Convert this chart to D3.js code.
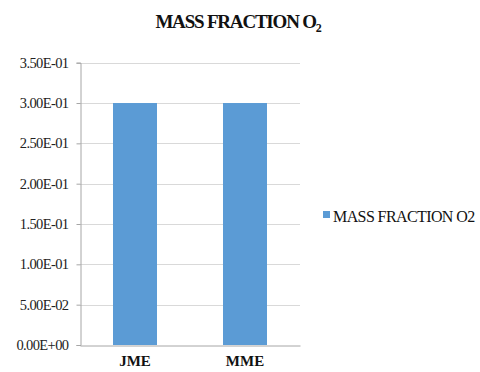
<!DOCTYPE html>
<html>
<head>
<meta charset="utf-8">
<script src="https://cdn.jsdelivr.net/npm/d3@7"></script>
<style>
  body { margin: 0; background: #fff; }
</style>
</head>
<body>
<div id="chart"></div>
<script>
// données
const categories = ["JME", "MME"];
const massFraction = [0.30, 0.30];
const yTicks = [0, 0.05, 0.10, 0.15, 0.20, 0.25, 0.30, 0.35];
const seriesName = "MASS FRACTION O2";

const width = 480, height = 372;
const plot = {left: 80, right: 300, top: 62.7, bottom: 345};
const serif = "'Liberation Serif', 'Times New Roman', serif";

const svg = d3.select("#chart").append("svg")
    .attr("width", width)
    .attr("height", height)
    .style("font-family", serif);

const x = d3.scaleBand().domain(categories).range([plot.left, plot.right]);
const y = d3.scaleLinear().domain([0, 0.35]).range([plot.bottom, plot.top]);

// format 3.50E-01
function sci(v) {
    let s = d3.format(".2e")(v).toUpperCase();
    return s.replace(/E([+-])(\d)$/, "E$10$2");
}

// grille
svg.append("g").selectAll("line").data(yTicks.slice(1)).enter()
    .append("line")
    .attr("x1", plot.left).attr("x2", plot.right)
    .attr("y1", d => Math.round(y(d)) + 0.5).attr("y2", d => Math.round(y(d)) + 0.5)
    .attr("stroke", "#d9d9d9").attr("stroke-width", 1);

// barres
const barW = x.bandwidth() * 0.4;
svg.append("g").selectAll("rect").data(massFraction).enter()
    .append("rect")
    .attr("x", (d, i) => x(categories[i]) + (x.bandwidth() - barW) / 2)
    .attr("y", d => y(d))
    .attr("width", barW)
    .attr("height", d => y(0) - y(d))
    .attr("fill", "#5b9bd5");

// axe y
const yAxis = svg.append("g")
    .attr("transform", "translate(" + (plot.left + 0.5) + ",0)")
    .call(d3.axisLeft(y).tickValues(yTicks).tickFormat(sci).tickSize(4).tickPadding(8));
yAxis.attr("font-family", null);
yAxis.select(".domain").attr("stroke", "#a6a6a6");
yAxis.selectAll(".tick line").attr("stroke", "#a6a6a6");
yAxis.selectAll("text")
    .style("font-family", serif)
    .attr("font-size", 14.5)
    .attr("letter-spacing", -0.6)
    .attr("fill", "#222");

// axe x
const xAxis = svg.append("g")
    .attr("transform", "translate(0," + (Math.round(plot.bottom) + 0.5) + ")")
    .call(d3.axisBottom(x).tickSize(0).tickPadding(10));
xAxis.attr("font-family", null);
xAxis.select(".domain").attr("stroke", "#a6a6a6");
xAxis.selectAll("text")
    .style("font-family", serif)
    .attr("font-size", 15)
    .attr("font-weight", "bold")
    .attr("fill", "#111");

// titre
const title = svg.append("text")
    .attr("x", 238).attr("y", 28)
    .attr("text-anchor", "middle")
    .style("font-family", serif)
    .attr("font-size", 19)
    .attr("font-weight", "bold")
    .attr("letter-spacing", -1.2)
    .attr("fill", "#111");
title.append("tspan").text("MASS FRACTION O");
title.append("tspan").attr("dy", 4).attr("font-size", 12).text("2");

// légende
const legend = svg.append("g").attr("transform", "translate(323,211)");
legend.append("rect").attr("width", 7).attr("height", 7).attr("fill", "#5b9bd5");
legend.append("text")
    .attr("x", 10).attr("y", 10.5)
    .style("font-family", serif)
    .attr("font-size", 16)
    .attr("letter-spacing", -0.6)
    .attr("fill", "#111")
    .text(seriesName);
</script>
</body>
</html>
